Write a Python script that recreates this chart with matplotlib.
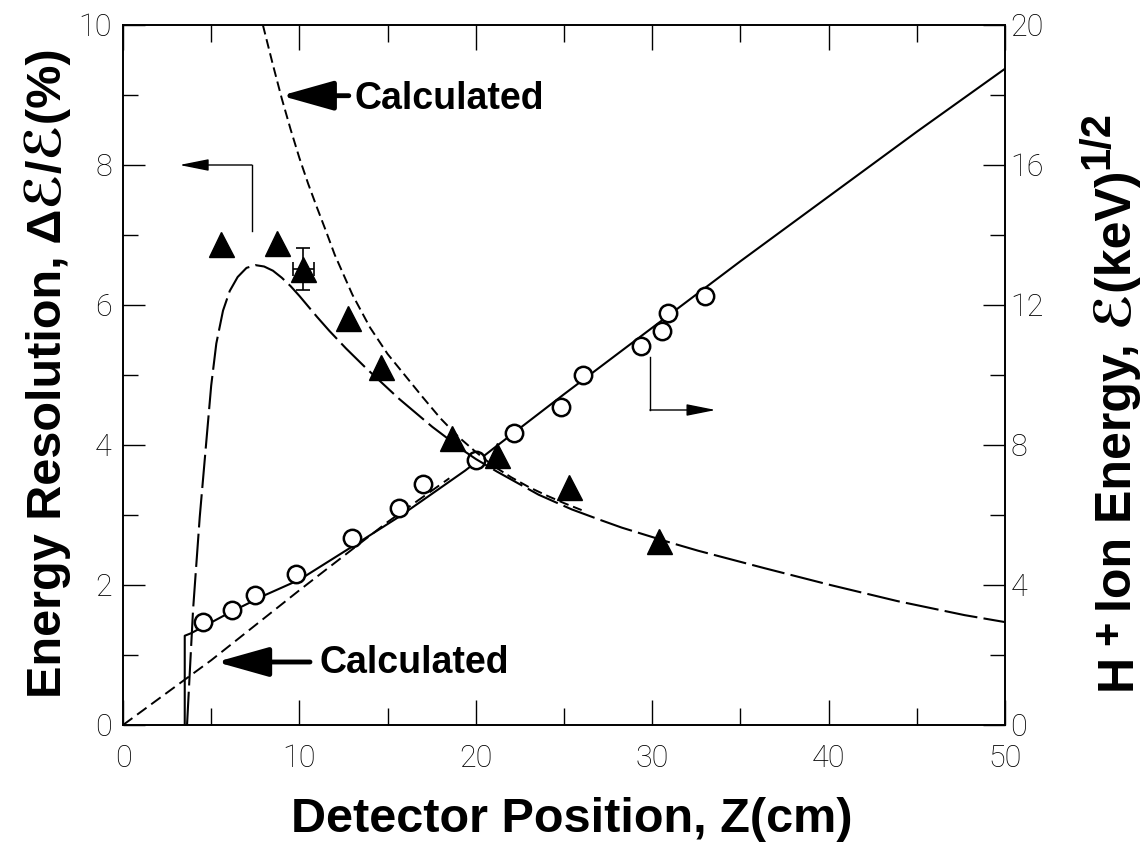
import matplotlib.pyplot as plt
from matplotlib.ticker import MultipleLocator

# measured resolution (left axis, %)
tri_z = [5.58, 8.72, 10.23, 12.73, 14.6, 18.66, 21.2, 25.3, 30.4]
tri_res = [6.87, 6.89, 6.51, 5.82, 5.11, 4.10, 3.86, 3.40, 2.63]
err_z, err_res, err_dz, err_dres = 10.23, 6.51, 0.57, 0.30

# measured ion energy (right axis, keV^1/2)
circ_z = [4.54, 6.2, 7.51, 9.81, 12.96, 15.65, 17.0, 20.0, 22.15, 24.84,
          26.06, 29.34, 30.58, 30.9, 32.98]
circ_e = [2.95, 3.30, 3.71, 4.31, 5.35, 6.20, 6.90, 7.56, 8.34, 9.10,
          10.0, 10.84, 11.27, 11.76, 12.27]

# resolution curve through the data
res_fit_z = [3.63, 3.97, 4.35, 4.73, 5.0, 5.29, 5.67, 6.05, 6.5, 7.0, 7.5,
             8.0, 8.5, 9.0, 9.5, 10.0, 10.5, 11.0, 11.7, 12.64, 13.77, 15.65,
             17.53, 19.42, 20.0, 21.2, 23.56, 25.44, 27.05, 28.27, 31.1, 32.6,
             36.37, 40.1, 43.9, 47.7, 50.0]
res_fit = [0.0, 1.64, 2.97, 4.07, 4.85, 5.45, 5.92, 6.20, 6.40, 6.53, 6.57,
           6.55, 6.49, 6.39, 6.27, 6.13, 5.98, 5.83, 5.63, 5.38, 5.10, 4.66,
           4.26, 3.90, 3.80, 3.62, 3.29, 3.08, 2.93, 2.82, 2.60, 2.49,
           2.24, 2.00, 1.77, 1.57, 1.47]

# calculated resolution
res_calc_z = [7.93, 8.5, 9.0, 9.5, 10.0, 10.5, 11.0, 11.5, 12.0, 13.0, 14.0,
              15.0, 16.0, 17.0, 18.0, 19.0, 20.0, 21.0, 22.0, 23.0, 24.0,
              25.0, 26.0]
res_calc = [10.0, 9.43, 8.95, 8.51, 8.10, 7.73, 7.39, 7.06, 6.72, 6.15, 5.68,
            5.30, 4.99, 4.68, 4.38, 4.12, 3.90, 3.70, 3.54, 3.40, 3.28,
            3.17, 3.07]

# energy curve through the data
e_fit_z = [3.5, 3.5, 3.85, 6.0, 8.0, 10.0, 13.0, 15.65, 17.5, 19.4, 21.0,
           25.0, 30.0, 35.0, 40.0, 45.0, 50.0]
e_fit = [0.0, 2.55, 2.62, 3.20, 3.70, 4.15, 5.10, 5.95, 6.60, 7.27, 7.90,
         9.45, 11.35, 13.25, 15.10, 16.95, 18.75]

# calculated energy
e_calc_z = [0.0, 5.0, 10.0, 15.0, 18.5]
e_calc = [0.0, 1.85, 3.85, 5.80, 7.05]

tick_font = dict(fontsize=22, family='Roboto', fontweight='light')
label_font = dict(fontsize=35, family=['Liberation Sans', 'DejaVu Sans'], fontweight='bold')

W, H = 1147, 844
fig = plt.figure(figsize=(W / 100, H / 100), dpi=100)
ax = fig.add_axes([123 / W, 1 - 725 / H, 882 / W, 700 / H])
ax2 = ax.twinx()

ax.set_xlim(0, 50)
ax.set_ylim(0, 10)
ax2.set_ylim(0, 20)

# energy (right axis)
ax2.plot(e_fit_z, e_fit, color='black', lw=1.5)
ax2.plot(e_calc_z, e_calc, color='black', lw=1.4, ls=(0, (6, 3)))
ax2.plot(circ_z, circ_e, ls='none', marker='o', ms=12.5, mfc='white',
         mec='black', mew=1.8, zorder=5)

# resolution (left axis)
ax.plot(res_fit_z, res_fit, color='black', lw=1.5, ls=(0, (16, 3)))
ax.plot(res_calc_z, res_calc, color='black', lw=1.4, ls=(0, (5, 2.5)))
ax.errorbar([err_z], [err_res], xerr=[err_dz], yerr=[err_dres], fmt='none',
            ecolor='black', elinewidth=1.2, capsize=5, capthick=1.2, zorder=4)
ax.plot(tri_z, tri_res, ls='none', marker='^', ms=18, color='black', zorder=6)
ax.set_zorder(ax2.get_zorder() + 1)
ax.patch.set_visible(False)

# axis pointers
small_head = dict(arrowstyle='-|>,head_length=0.9,head_width=0.18', lw=1.0,
                  color='black', mutation_scale=20, shrinkA=0, shrinkB=0)
ax.plot([7.3, 7.3], [7.06, 8.0], color='black', lw=1.0)
ax.annotate('', xy=(3.2, 8.0), xytext=(7.3, 8.0), arrowprops=small_head)
ax.plot([29.87, 29.87], [5.26, 4.5], color='black', lw=1.0)
ax.annotate('', xy=(33.6, 4.5), xytext=(29.87, 4.5), arrowprops=small_head)

# "Calculated" callouts
big_head = dict(arrowstyle='-|>,head_length=1.6,head_width=0.45', lw=3.5,
                color='black', mutation_scale=20, shrinkA=0, shrinkB=0)
ax.annotate('', xy=(8.96, 8.99), xytext=(12.8, 8.99), arrowprops=big_head)
ax.text(13.1, 8.80, 'Calculated', fontsize=27, fontweight='bold',
        family='Liberation Sans', ha='left', va='baseline')
ax.annotate('', xy=(5.29, 0.90), xytext=(10.6, 0.90), arrowprops=big_head)
ax.text(11.13, 0.745, 'Calculated', fontsize=27, fontweight='bold',
        family='Liberation Sans', ha='left', va='baseline')

# ticks
ax.set_xticks([0, 10, 20, 30, 40, 50], labels=['0', '10', '20', '30', '40', '50'], **tick_font)
ax.set_yticks([0, 2, 4, 6, 8, 10], labels=['0', '2', '4', '6', '8', '10'], **tick_font)
ax2.set_yticks([0, 4, 8, 12, 16, 20], labels=['0', '4', '8', '12', '16', '20'], **tick_font)
ax.xaxis.set_minor_locator(MultipleLocator(5))
ax.yaxis.set_minor_locator(MultipleLocator(1))
ax2.yaxis.set_minor_locator(MultipleLocator(2))

ax.tick_params(axis='x', which='both', direction='in', top=True, bottom=True,
               width=1.0, pad=14)
ax.tick_params(axis='x', which='major', length=18)
ax.tick_params(axis='x', which='minor', length=12)
ax.tick_params(axis='y', which='both', direction='in', left=True, right=False,
               width=1.0, pad=8)
ax.tick_params(axis='y', which='major', length=16)
ax.tick_params(axis='y', which='minor', length=11)
ax2.tick_params(axis='y', which='both', direction='in', right=True, left=False,
                width=1.0, pad=4)
ax2.tick_params(axis='y', which='major', length=16)
ax2.tick_params(axis='y', which='minor', length=11)

for a in (ax, ax2):
    for s in a.spines.values():
        s.set_linewidth(1.2)

# axis titles
fig.text(572 / W, 1 - 819 / H, 'Detector Position, Z(cm)', ha='center',
         va='center', **label_font)
fig.text(48 / W, 1 - 373 / H, 'Energy Resolution, Δℰ/ℰ(%)', rotation=90,
         ha='center', va='center', **label_font)

# right title, built piece by piece up the page (text, size, raise in px)
pieces = [('H', 36, 0), ('+', 30, 11), ('Ion Energy, ℰ(keV)', 36, 0), ('1/2', 30, 23)]
gaps = [9, 9, 1, 0]
base_x, y_px = 1131, H - 690
fig.canvas.draw()
renderer = fig.canvas.get_renderer()
for (txt, size, lift), gap in zip(pieces, gaps):
    t = fig.text((base_x - lift) / W, y_px / H, txt, rotation=90,
                 rotation_mode='anchor', ha='left', va='baseline',
                 fontsize=size, family=['Liberation Sans', 'DejaVu Sans'],
                 fontweight='bold')
    y_px = t.get_window_extent(renderer).y1 + gap

fig.savefig('out.png', dpi=100)
